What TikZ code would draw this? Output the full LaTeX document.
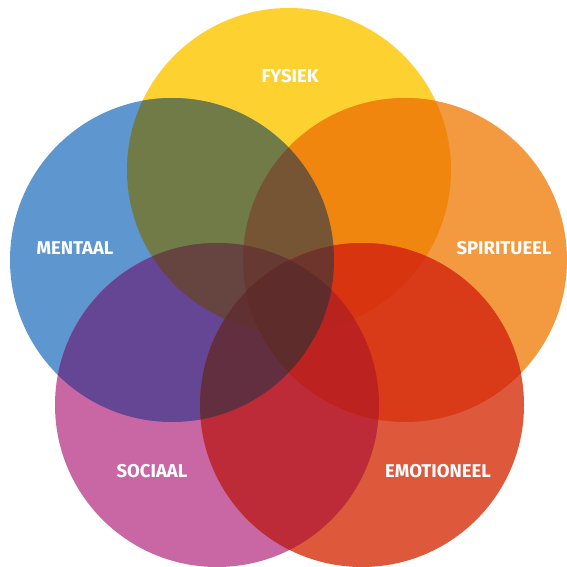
\documentclass[tikz,border=0pt]{standalone}
\usepackage{fontspec}
\setmainfont{Fira Sans}
\usepackage{xcolor}
\usepackage{tikz}

% single circles
\definecolor{cFy}{HTML}{FDD12F}
\definecolor{cMe}{HTML}{5E96CF}
\definecolor{cSp}{HTML}{F39A40}
\definecolor{cSo}{HTML}{C966A4}
\definecolor{cEm}{HTML}{DE583C}
% overlaps of two
\definecolor{cFySp}{HTML}{F0860E}
\definecolor{cFyMe}{HTML}{717B48}
\definecolor{cMeSo}{HTML}{654694}
\definecolor{cSoEm}{HTML}{BC2B37}
\definecolor{cSpEm}{HTML}{D93B18}
% overlaps of three
\definecolor{cMeFySp}{HTML}{765535}
\definecolor{cSoMeFy}{HTML}{664440}
\definecolor{cFySpEm}{HTML}{D8340F}
\definecolor{cMeSoEm}{HTML}{622F40}
\definecolor{cSpEmSo}{HTML}{BB2220}
% overlaps of four and five
\definecolor{cNoEm}{HTML}{663A33}
\definecolor{cNoSo}{HTML}{6E352C}
\definecolor{cNoSp}{HTML}{613030}
\definecolor{cNoMe}{HTML}{B8221F}
\definecolor{cNoFy}{HTML}{5E2C2B}
\definecolor{cAll}{HTML}{5E2C2B}

\tikzset{
  lbl/.style={text=white, inner sep=0pt, font=\bfseries\fontsize{18.5}{22}\selectfont},
}

\begin{document}
\begin{tikzpicture}[x=1pt, y=-1pt]

\useasboundingbox[fill=white] (0,0) rectangle (566,567);

\coordinate (fysiek) at (289,170);
\coordinate (mentaal) at (172,260);
\coordinate (spiritueel) at (405,260);
\coordinate (sociaal) at (217,405);
\coordinate (emotioneel) at (362,405);

\foreach \a/\col in {fysiek/cFy, mentaal/cMe, spiritueel/cSp, sociaal/cSo, emotioneel/cEm}
  \fill[\col] (\a) circle (162);

\foreach \a/\b/\col in {fysiek/spiritueel/cFySp, fysiek/mentaal/cFyMe, mentaal/sociaal/cMeSo,
    sociaal/emotioneel/cSoEm, spiritueel/emotioneel/cSpEm} {
  \begin{scope}
    \clip (\a) circle (162);
    \fill[\col] (\b) circle (162);
  \end{scope}
}

\foreach \a/\b/\c/\col in {mentaal/fysiek/spiritueel/cMeFySp, sociaal/mentaal/fysiek/cSoMeFy,
    fysiek/spiritueel/emotioneel/cFySpEm, mentaal/sociaal/emotioneel/cMeSoEm,
    spiritueel/emotioneel/sociaal/cSpEmSo} {
  \begin{scope}
    \clip (\a) circle (162);
    \clip (\b) circle (162);
    \fill[\col] (\c) circle (162);
  \end{scope}
}

\foreach \a/\b/\c/\d/\col in {fysiek/spiritueel/mentaal/sociaal/cNoEm,
    fysiek/spiritueel/mentaal/emotioneel/cNoSo, fysiek/mentaal/sociaal/emotioneel/cNoSp,
    fysiek/spiritueel/emotioneel/sociaal/cNoMe, mentaal/spiritueel/emotioneel/sociaal/cNoFy} {
  \begin{scope}
    \clip (\a) circle (162);
    \clip (\b) circle (162);
    \clip (\c) circle (162);
    \fill[\col] (\d) circle (162);
  \end{scope}
}

\begin{scope}
  \clip (fysiek) circle (162);
  \clip (mentaal) circle (162);
  \clip (spiritueel) circle (162);
  \clip (sociaal) circle (162);
  \fill[cAll] (emotioneel) circle (162);
\end{scope}

\node[lbl] (fysiekText) at (290,76) {FYSIEK};
\node[lbl] (mentaalText) at (75,248) {MENTAAL};
\node[lbl] (spiritueelText) at (504,248) {SPIRITUEEL};
\node[lbl] (sociaalText) at (152,471) {SOCIAAL};
\node[lbl] (emotioneelText) at (438,471) {EMOTIONEEL};

\end{tikzpicture}
\end{document}
